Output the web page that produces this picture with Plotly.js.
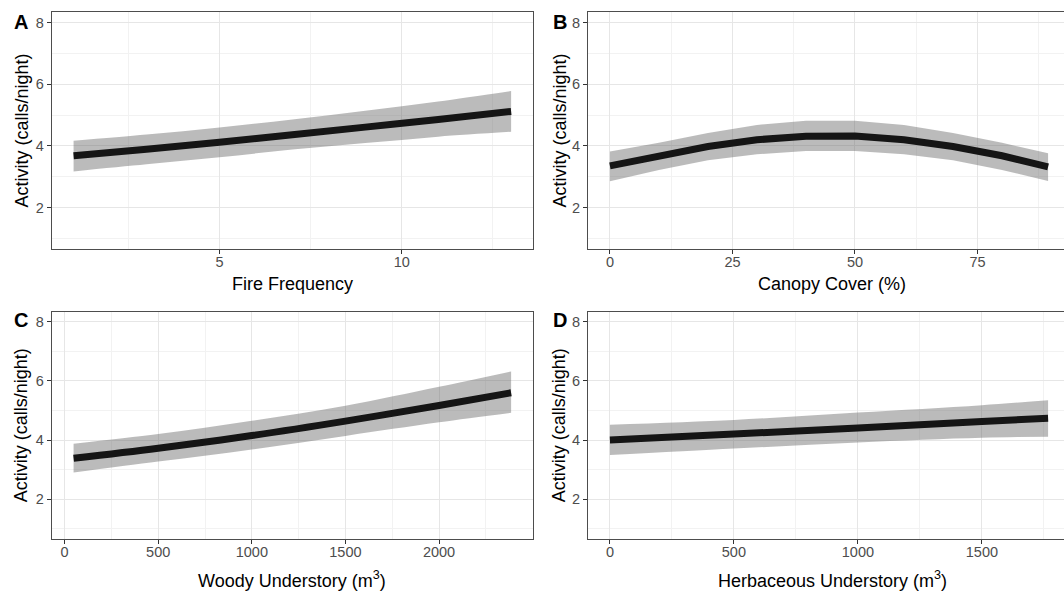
<!DOCTYPE html>
<html>
<head>
<meta charset="utf-8">
<script src="https://cdn.plot.ly/plotly-3.0.1.min.js"></script>
<style>
html,body{margin:0;padding:0;overflow:hidden;background:#fff;}
#chart{width:1080px;height:592px;}
</style>
</head>
<body>
<div id="chart"></div>
<script>
// ---- Data ----
// A: Fire Frequency
var fireX     = [1, 3, 5, 7, 9, 11, 13];
var fireFit   = [3.68, 3.89, 4.12, 4.36, 4.61, 4.86, 5.12];
var fireUpper = [4.17, 4.37, 4.60, 4.86, 5.14, 5.44, 5.78];
var fireLower = [3.17, 3.40, 3.63, 3.88, 4.09, 4.30, 4.46];

// B: Canopy Cover (%)
var canopyX     = [0, 10, 20, 30, 40, 50, 60, 70, 80, 89.4];
var canopyFit   = [3.35, 3.68, 3.98, 4.20, 4.31, 4.32, 4.20, 3.98, 3.68, 3.32];
var canopyUpper = [3.82, 4.10, 4.42, 4.68, 4.82, 4.82, 4.68, 4.42, 4.10, 3.76];
var canopyLower = [2.85, 3.22, 3.53, 3.73, 3.83, 3.83, 3.73, 3.53, 3.22, 2.86];

// C: Woody Understory (m^3)
var woodyX     = [48, 500, 1000, 1500, 2000, 2385];
var woodyFit   = [3.38, 3.72, 4.15, 4.64, 5.17, 5.60];
var woodyUpper = [3.87, 4.20, 4.65, 5.16, 5.80, 6.32];
var woodyLower = [2.90, 3.27, 3.68, 4.14, 4.60, 4.92];

// D: Herbaceous Understory (m^3)
var herbX     = [0, 500, 1000, 1500, 1767];
var herbFit   = [4.00, 4.20, 4.41, 4.63, 4.74];
var herbUpper = [4.52, 4.68, 4.93, 5.18, 5.35];
var herbLower = [3.49, 3.71, 3.92, 4.08, 4.11];

var panelLetters = ["A", "B", "C", "D"];
var xTitles = ["Fire Frequency", "Canopy Cover (%)", "Woody Understory (m<sup>3</sup>)", "Herbaceous Understory (m<sup>3</sup>)"];
var yTitle = "Activity (calls/night)";
var yTicks = [2, 4, 6, 8];
var fireTicks = [5, 10];
var canopyTicks = [0, 25, 50, 75];
var woodyTicks = [0, 500, 1000, 1500, 2000];
var herbTicks = [0, 500, 1000, 1500];

// ---- Layout geometry ----
var W = 1080, H = 592;
function fx(px){ return px / W; }
function fy(py){ return 1 - py / H; }

var FONT = "Liberation Sans, Arial, Helvetica, sans-serif";
var bandFill = "rgba(105,105,105,0.45)";
var lineCol = "#151515";

var panels = [
  {x: fireX, fit: fireFit, up: fireUpper, lo: fireLower, shape: "spline", ticks: fireTicks, minor: 2.5, range: [0.4, 13.6]},
  {x: canopyX, fit: canopyFit, up: canopyUpper, lo: canopyLower, shape: "linear", ticks: canopyTicks, minor: 12.5, range: [-4.47, 93.87]},
  {x: woodyX, fit: woodyFit, up: woodyUpper, lo: woodyLower, shape: "spline", ticks: woodyTicks, minor: 250, range: [-68.85, 2501.85]},
  {x: herbX, fit: herbFit, up: herbUpper, lo: herbLower, shape: "spline", ticks: herbTicks, minor: 250, range: [-88.35, 1855.35]}
];

var colPx = [[51.7, 533], [588, 1070]];
var rowPx = [[12, 249], [311.5, 539]];
var xTitleCx = [292.4, 832];

var traces = [];
var layout = {
  width: W, height: H,
  margin: {l: 0, r: 0, t: 0, b: 0},
  paper_bgcolor: "#fff",
  plot_bgcolor: "#fff",
  showlegend: false,
  font: {family: FONT, color: "#000"},
  annotations: []
};

panels.forEach(function(p, i){
  var col = i % 2, row = Math.floor(i / 2);
  var n = i + 1;
  var xa = "x" + (n === 1 ? "" : n), ya = "y" + (n === 1 ? "" : n);
  traces.push({x: p.x, y: p.lo, xaxis: xa, yaxis: ya, type: "scatter", mode: "lines",
    line: {width: 0, shape: p.shape}, hoverinfo: "skip"});
  traces.push({x: p.x, y: p.up, xaxis: xa, yaxis: ya, type: "scatter", mode: "lines",
    line: {width: 0, shape: p.shape}, fill: "tonexty", fillcolor: bandFill, hoverinfo: "skip"});
  traces.push({x: p.x, y: p.fit, xaxis: xa, yaxis: ya, type: "scatter", mode: "lines",
    line: {width: 7, color: lineCol, shape: p.shape}});

  var common = {
    showline: true, mirror: true, linecolor: "#4d4d4d", linewidth: 1,
    ticks: "outside", ticklen: 4, tickwidth: 1, tickcolor: "#333",
    tickfont: {family: FONT, size: 14.5, color: "#4d4d4d"},
    showgrid: true, gridcolor: "#E6E6E6", gridwidth: 1,
    zeroline: false, fixedrange: true
  };
  layout["xaxis" + (n === 1 ? "" : n)] = Object.assign({}, common, {
    domain: [fx(colPx[col][0]), fx(colPx[col][1])],
    anchor: ya, range: p.range, tickmode: "array", tickvals: p.ticks,
    ticklabelstandoff: -4,
    minor: {dtick: p.minor, tick0: 0, showgrid: true, gridcolor: "#F2F2F2", gridwidth: 1, ticks: ""}
  });
  layout["yaxis" + (n === 1 ? "" : n)] = Object.assign({}, common, {
    domain: [fy(rowPx[row][1]), fy(rowPx[row][0])],
    anchor: xa, range: [0.65, 8.35], tickmode: "array", tickvals: yTicks,
    minor: {dtick: 1, tick0: 0, showgrid: true, gridcolor: "#F2F2F2", gridwidth: 1, ticks: ""}
  });

  var cy = (rowPx[row][0] + rowPx[row][1]) / 2;
  var letterX = col === 0 ? 12 : 551;
  var letterY = row === 0 ? 22 : 320;
  var ytX = col === 0 ? 21 : 559;
  var xtY = row === 0 ? 284 : 579;

  layout.annotations.push({text: "<b>" + panelLetters[i] + "</b>", xref: "paper", yref: "paper",
    x: fx(letterX), y: fy(letterY), xanchor: "left", yanchor: "middle", showarrow: false,
    font: {family: FONT, size: 20, color: "#000"}});
  layout.annotations.push({text: yTitle, xref: "paper", yref: "paper", textangle: -90,
    x: fx(ytX), y: fy(cy), xanchor: "center", yanchor: "middle", showarrow: false,
    font: {family: FONT, size: 18, color: "#000"}});
  layout.annotations.push({text: xTitles[i], xref: "paper", yref: "paper",
    x: fx(xTitleCx[col]), y: fy(xtY), xanchor: "center", yanchor: "middle", showarrow: false,
    font: {family: FONT, size: 18, color: "#000"}});
});

Plotly.newPlot("chart", traces, layout, {displayModeBar: false, staticPlot: true});
</script>
</body>
</html>
